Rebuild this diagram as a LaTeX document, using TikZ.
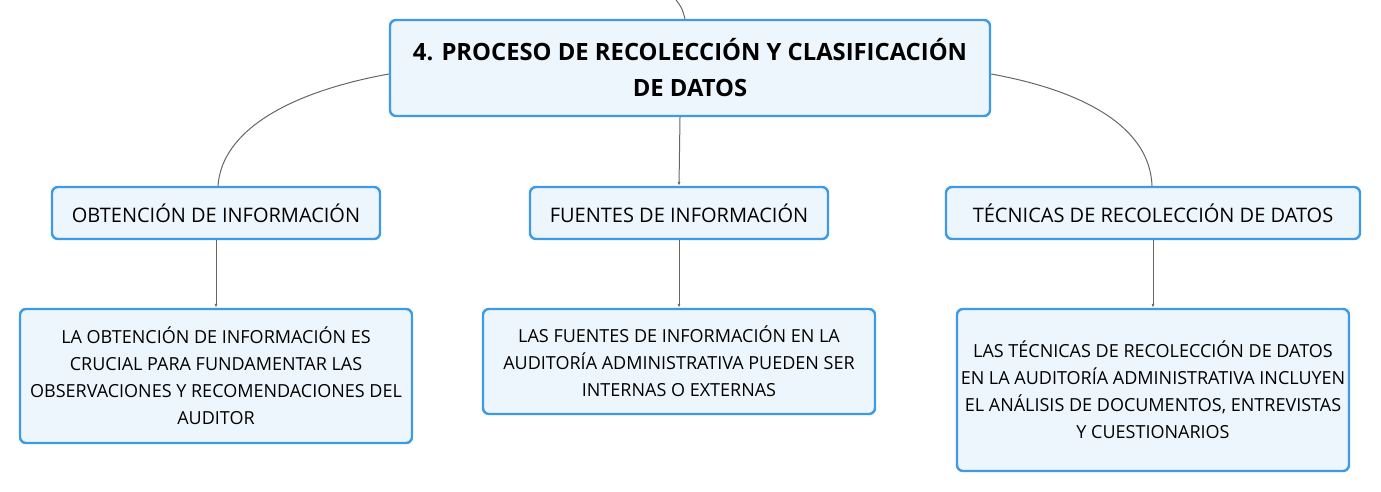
\documentclass[tikz,border=0pt]{standalone}
\usepackage{fontspec}
\setmainfont{Open Sans}
\usetikzlibrary{arrows.meta}
\definecolor{boxline}{HTML}{3D9AE8}
\definecolor{boxfill}{HTML}{EEF6FD}
\definecolor{linkgray}{HTML}{666666}
\begin{document}
\begin{tikzpicture}[x=1pt,y=-1pt,
  box/.style={draw=boxline,fill=boxfill,line width=2.4pt,rounded corners=6pt,
    align=center,inner sep=0pt},
  titlebox/.style={box,font=\fontsize{23.8}{36}\selectfont\bfseries},
  headbox/.style={box,font=\fontsize{20}{24}\selectfont},
  textbox/.style={box,font=\fontsize{18}{27}\selectfont},
  link/.style={draw=linkgray,line width=1pt},
  arrowlink/.style={link,-{Latex[length=4pt,width=3pt]}}]

\useasboundingbox (0,0) rectangle (1381,492);

% ---- root ----
\node[titlebox,minimum width=600pt,minimum height=96pt] (title) at (690,68)
  {4. PROCESO DE RECOLECCIÓN Y CLASIFICACIÓN\\DE DATOS};
\coordinate (parent) at (676,0);

% ---- second level ----
\node[headbox,minimum width=328pt,minimum height=52pt] (obtencion) at (216,213)
  {OBTENCIÓN DE INFORMACIÓN};
\node[headbox,minimum width=298pt,minimum height=52pt] (fuentes) at (679,213)
  {FUENTES DE INFORMACIÓN};
\node[headbox,minimum width=414pt,minimum height=52pt] (tecnicas) at (1153,213)
  {TÉCNICAS DE RECOLECCIÓN DE DATOS};

% ---- third level ----
\node[textbox,minimum width=392pt,minimum height=134pt] (obtencionTxt) at (216,376)
  {LA OBTENCIÓN DE INFORMACIÓN ES\\CRUCIAL PARA FUNDAMENTAR LAS\\OBSERVACIONES Y RECOMENDACIONES DEL\\AUDITOR};
\node[textbox,minimum width=392pt,minimum height=105pt] (fuentesTxt) at (679,361.5)
  {LAS FUENTES DE INFORMACIÓN EN LA\\AUDITORÍA ADMINISTRATIVA PUEDEN SER\\INTERNAS O EXTERNAS};
\node[textbox,minimum width=392pt,minimum height=162pt] (tecnicasTxt) at (1153,390)
  {LAS TÉCNICAS DE RECOLECCIÓN DE DATOS\\EN LA AUDITORÍA ADMINISTRATIVA INCLUYEN\\EL ANÁLISIS DE DOCUMENTOS, ENTREVISTAS\\Y CUESTIONARIOS};

% ---- connectors ----
\draw[link] (parent) .. controls (682,8) .. (title.north -| 685,0);
\draw[link] (title.west |- 0,74) .. controls (290,92) and (222,130) .. (obtencion.north -| 218,0);
\draw[link] (title.east |- 0,74) .. controls (1090,92) and (1150,130) .. (tecnicas.north -| 1152,0);
\draw[arrowlink] (title.south -| 680,0) -- (fuentes.north -| 679,0);

\draw[arrowlink] (obtencion.south) -- (obtencionTxt.north);
\draw[arrowlink] (fuentes.south) -- (fuentesTxt.north);
\draw[arrowlink] (tecnicas.south) -- (tecnicasTxt.north);

\end{tikzpicture}
\end{document}
